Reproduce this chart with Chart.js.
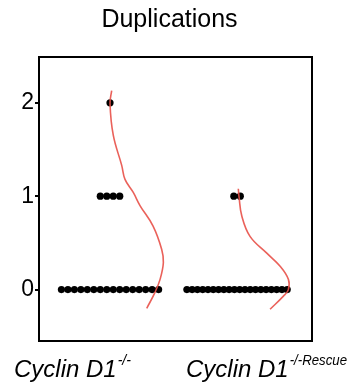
<!DOCTYPE html>
<html>
<head>
<meta charset="utf-8">
<script src="https://cdn.jsdelivr.net/npm/chart.js@4.4.0/dist/chart.umd.min.js"></script>
<style>
  html, body { margin: 0; padding: 0; background: #fff; }
  #wrap { width: 352px; height: 389px; }
</style>
</head>
<body>
<div id="wrap"><canvas id="dupCanvas"></canvas></div>
<script>
////////////////data//////////////////////
var chartTitle = "Duplications";
var groupNames = ["Cyclin D1", "Cyclin D1"];
var groupSup = ["-/-", "-/-Rescue"];
var yTicks = [0, 1, 2];
var levels = [0, 1, 2];
var countsKO = [16, 4, 1];
var countsRescue = [20, 2, 0];
// red density curves: y level and half width (x units)
var curveKO_y = [2.13, 1.99, 1.65, 1.33, 1.18, 1.04, 0.90, 0.68, 0.43, 0.29, 0.11, -0.03, -0.20];
var curveKO_w = [0.013, 0.0, 0.026, 0.092, 0.118, 0.183, 0.236, 0.339, 0.407, 0.420, 0.394, 0.354, 0.289];
var curveRescue_y = [1.08, 0.99, 0.79, 0.57, 0.39, 0.25, 0.11, 0.0, -0.07, -0.21];
var curveRescue_w = [0.010, 0.016, 0.037, 0.102, 0.234, 0.339, 0.404, 0.404, 0.365, 0.260];

/////////////////////////////////////////////////////////////////
function dotsFor(center, counts) {
    var pts = [];
    for (var i in levels) {
        var n = counts[i];
        if (!n) continue;
        var step = n > 1 ? Math.min(0.051, 0.79 / (n - 1)) : 0;
        for (var k = 0; k < n; k++) {
            pts.push({x: center + (k - (n - 1) / 2) * step, y: levels[i]});
        }
    }
    return pts;
}
function curveFor(center, ys, ws) {
    var pts = [];
    for (var i in ys) pts.push({x: center + ws[i], y: ys[i]});
    return pts;
}

var FONT = "'Liberation Sans', Arial, Helvetica, sans-serif";

// title, frame round the plot, x labels with superscripts
var framePlugin = {
    id: "frame",
    afterDraw: function (chart) {
        var ctx = chart.ctx, a = chart.chartArea;
        ctx.save();
        ctx.strokeStyle = "#000";
        ctx.lineWidth = 2;
        ctx.strokeRect(a.left, a.top, a.right - a.left, a.bottom - a.top);

        ctx.fillStyle = "#000";
        ctx.textBaseline = "alphabetic";
        ctx.textAlign = "center";
        ctx.font = "25px " + FONT;
        ctx.fillText(chartTitle, (a.left + a.right) / 2 - 6, 27);

        ctx.textAlign = "left";
        var lefts = [14, 186];
        for (var i in groupNames) {
            ctx.font = "italic 24px " + FONT;
            ctx.fillText(groupNames[i], lefts[i], 377);
            var w = ctx.measureText(groupNames[i]).width;
            ctx.font = "italic 14px " + FONT;
            ctx.fillText(groupSup[i], lefts[i] + w + 1, 365, 347 - (lefts[i] + w + 1));
        }
        ctx.restore();
    }
};

var lineStyle = {
    showLine: true, pointRadius: 0, borderColor: "rgba(232,80,72,0.9)",
    borderWidth: 1.6, tension: 0.4, fill: false
};
var dotStyle = {
    pointRadius: 3.6, pointBackgroundColor: "#000", pointBorderWidth: 0, showLine: false
};

var chartdata = {
    datasets: [
        Object.assign({label: "KO curve", data: curveFor(1, curveKO_y, curveKO_w)}, lineStyle),
        Object.assign({label: "Rescue curve", data: curveFor(2, curveRescue_y, curveRescue_w)}, lineStyle),
        Object.assign({label: "KO", data: dotsFor(1, countsKO)}, dotStyle),
        Object.assign({label: "Rescue", data: dotsFor(2, countsRescue)}, dotStyle)
    ]
};

var dupGraph = new Chart(document.getElementById("dupCanvas"), {
    type: "scatter",
    data: chartdata,
    plugins: [framePlugin],
    options: {
        responsive: true,
        maintainAspectRatio: false,
        animation: false,
        layout: {padding: {left: 0, right: 40, top: 57, bottom: 48}},
        plugins: {
            legend: {display: false},
            tooltip: {enabled: false},
            title: {display: false}
        },
        scales: {
            x: {type: "linear", min: 0.441, max: 2.59, display: false},
            y: {
                type: "linear", min: -0.55, max: 2.49,
                afterBuildTicks: function (scale) {
                    scale.ticks = yTicks.map(function (v) { return {value: v}; });
                },
                afterFit: function (scale) { scale.width = 39; },
                border: {display: true, color: "#000", width: 2},
                grid: {drawOnChartArea: false, drawTicks: true, tickLength: 4, color: "#000", lineWidth: 2},
                ticks: {color: "#000", padding: 1, font: {family: FONT, size: 23}}
            }
        }
    }
});
</script>
</body>
</html>
